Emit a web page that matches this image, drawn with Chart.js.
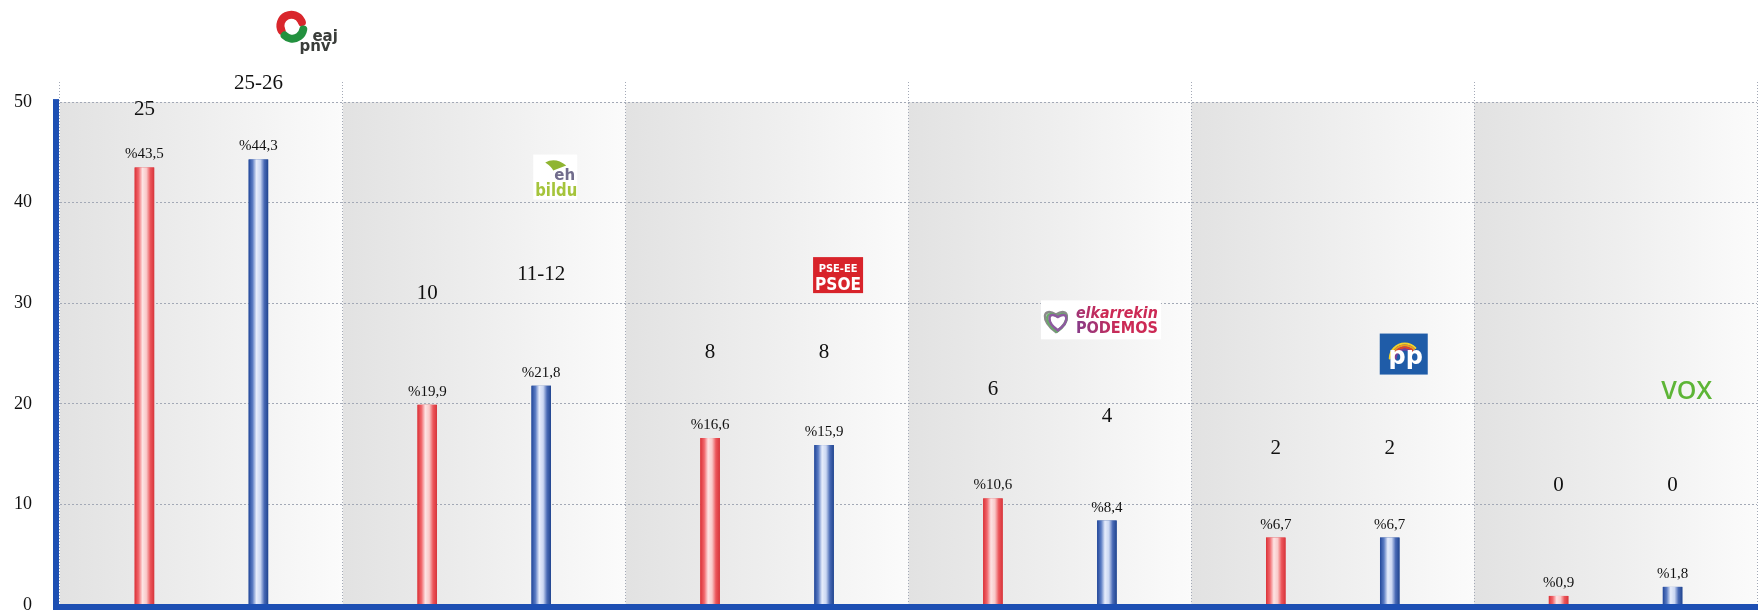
<!DOCTYPE html>
<html>
<head>
<meta charset="utf-8">
<script src="https://cdn.jsdelivr.net/npm/chart.js@4.4.1/dist/chart.umd.min.js"></script>
<style>
  html, body { margin: 0; padding: 0; background: #fff; }
  #wrap { width: 1758px; height: 610px; }
</style>
</head>
<body>
<div id="wrap"><canvas id="inkestaChart" width="1758" height="610"></canvas></div>
<script>
// Datuak
const alderdiak = ['EAJ-PNV', 'EH Bildu', 'PSE-EE (PSOE)', 'Elkarrekin Podemos', 'PP', 'Vox'];
const boto2016 = [43.5, 19.9, 16.6, 10.6, 6.7, 0.9];
const botoInkesta = [44.3, 21.8, 15.9, 8.4, 6.7, 1.8];
const eserleku2016 = ['25', '10', '8', '6', '2', '0'];
const eserlekuInkesta = ['25-26', '11-12', '8', '4', '2', '0'];
const yTicks = [0, 10, 20, 30, 40, 50];

// Eserleku-etiketen eta logoen altuera (ardatzaren unitateetan)
const eserlekuMaila2016 = [49.3, 31.0, 25.1, 21.4, 15.6, 11.9];
const eserlekuMailaInkesta = [51.9, 32.9, 25.1, 18.7, 15.6, 11.9];
const logoMaila = [57.0, 42.6, 32.8, 28.4, 24.9, 21.3];
const logoDx = [46, 14, 14, -6, 14, 14];

const SERIF = '"Liberation Serif", "Times New Roman", serif';
const urdina = '#1d4fb3';

const ehuneko = v => '%' + v.toFixed(1).replace('.', ',');

// --- logoak (marrazki sinpleak) ---
function logoPnv(ctx, cx, cy) {
  const sx = cx - 13, sy = cy - 6;
  ctx.lineCap = 'round';
  ctx.lineWidth = 8;
  ctx.strokeStyle = '#d9262c';
  ctx.beginPath(); ctx.arc(sx, sy, 11, Math.PI * 0.85, Math.PI * 1.9); ctx.stroke();
  ctx.strokeStyle = '#23913f';
  ctx.beginPath(); ctx.arc(sx + 1, sy + 2, 11, Math.PI * 0.05, Math.PI * 0.75); ctx.stroke();
  ctx.fillStyle = '#3a3d3a';
  ctx.textAlign = 'left';
  ctx.textBaseline = 'alphabetic';
  ctx.font = 'bold 15px "DejaVu Sans", sans-serif';
  ctx.fillText('eaj', cx + 8, cy + 9);
  ctx.fillText('pnv', cx - 5, cy + 19);
}

function logoBildu(ctx, cx, cy) {
  ctx.fillStyle = '#ffffff';
  ctx.fillRect(cx - 22, cy - 22, 44, 45);
  ctx.fillStyle = '#8fb531';
  ctx.beginPath();
  ctx.moveTo(cx - 10, cy - 14);
  ctx.quadraticCurveTo(cx, cy - 20, cx + 11, cy - 11);
  ctx.lineTo(cx - 2, cy - 6);
  ctx.quadraticCurveTo(cx - 4, cy - 10, cx - 10, cy - 14);
  ctx.fill();
  ctx.textAlign = 'left';
  ctx.textBaseline = 'alphabetic';
  ctx.font = 'bold 15px "DejaVu Sans", sans-serif';
  ctx.fillStyle = '#716c8c';
  ctx.fillText('eh', cx - 1, cy + 3);
  ctx.font = 'bold 17px "DejaVu Sans", sans-serif';
  ctx.fillStyle = '#a5c43b';
  ctx.fillText('bildu', cx - 20, cy + 19, 42);
}

function logoPsoe(ctx, cx, cy) {
  ctx.fillStyle = '#d8232a';
  ctx.fillRect(cx - 25, cy - 18, 50, 36);
  ctx.fillStyle = '#ffffff';
  ctx.textAlign = 'center';
  ctx.textBaseline = 'alphabetic';
  ctx.font = 'bold 11px "DejaVu Sans Condensed", "DejaVu Sans", sans-serif';
  ctx.fillText('PSE-EE', cx, cy - 3, 44);
  ctx.font = 'bold 18px "DejaVu Sans Condensed", "DejaVu Sans", sans-serif';
  ctx.fillText('PSOE', cx, cy + 15, 46);
}

function bihotza(ctx, x, y, s) {
  ctx.beginPath();
  ctx.moveTo(x, y + s * 0.45);
  ctx.bezierCurveTo(x - s * 0.62, y + s * 0.02, x - s * 0.5, y - s * 0.55, x, y - s * 0.22);
  ctx.bezierCurveTo(x + s * 0.5, y - s * 0.55, x + s * 0.62, y + s * 0.02, x, y + s * 0.45);
  ctx.closePath();
}

function logoPodemos(ctx, cx, cy) {
  ctx.fillStyle = '#ffffff';
  ctx.fillRect(cx - 60, cy - 19, 120, 39);
  const hx = cx - 44, hy = cy + 1;
  ctx.lineWidth = 2.5;
  ctx.strokeStyle = '#8a8a8a'; bihotza(ctx, hx - 1, hy, 26); ctx.stroke();
  ctx.strokeStyle = '#6aa86a'; bihotza(ctx, hx, hy + 1, 23); ctx.stroke();
  ctx.strokeStyle = '#8e5aa0'; bihotza(ctx, hx + 1, hy + 1, 20); ctx.stroke();
  const g = ctx.createLinearGradient(cx - 26, 0, cx + 58, 0);
  g.addColorStop(0, '#6f3d86');
  g.addColorStop(0.5, '#8a3a86');
  g.addColorStop(1, '#cc2a55');
  ctx.fillStyle = g;
  ctx.textAlign = 'left';
  ctx.textBaseline = 'alphabetic';
  ctx.font = 'italic bold 15px "DejaVu Sans", sans-serif';
  ctx.fillText('elkarrekin', cx - 25, cy - 1, 82);
  ctx.font = 'bold 15px "DejaVu Sans", sans-serif';
  ctx.fillText('PODEMOS', cx - 25, cy + 14, 82);
}

function logoPp(ctx, cx, cy) {
  ctx.fillStyle = '#1f5ca8';
  ctx.fillRect(cx - 24, cy - 21, 48, 41);
  const kolore = ['#f5d327', '#f39a1e', '#e3422b', '#7b3f98'];
  ctx.lineWidth = 2;
  kolore.forEach((k, i) => {
    ctx.strokeStyle = k;
    ctx.beginPath();
    ctx.arc(cx + 1, cy + 4, 15 - i * 2, Math.PI * 1.0, Math.PI * 1.75);
    ctx.stroke();
  });
  ctx.fillStyle = '#ffffff';
  ctx.textAlign = 'center';
  ctx.textBaseline = 'alphabetic';
  ctx.font = 'bold 24px "DejaVu Sans", sans-serif';
  ctx.fillText('pp', cx + 2, cy + 9);
}

function logoVox(ctx, cx, cy) {
  ctx.fillStyle = '#5db536';
  ctx.textAlign = 'center';
  ctx.textBaseline = 'middle';
  ctx.font = '600 25px "Open Sans", "DejaVu Sans", sans-serif';
  ctx.fillText('VOX', cx, cy + 1, 56);
}

const logoak = [logoPnv, logoBildu, logoPsoe, logoPodemos, logoPp, logoVox];

// Atzeko banda grisak
const bandak = {
  id: 'bandak',
  beforeDraw(chart) {
    const { ctx, chartArea, scales: { x, y } } = chart;
    const w = x.getPixelForValue(1) - x.getPixelForValue(0);
    const top = y.getPixelForValue(50);
    ctx.save();
    alderdiak.forEach((_, i) => {
      const left = x.getPixelForValue(i) - w / 2;
      const g = ctx.createLinearGradient(left, 0, left + w, 0);
      g.addColorStop(0, '#e2e2e2');
      g.addColorStop(0.5, '#eeeeee');
      g.addColorStop(1, '#fbfbfb');
      ctx.fillStyle = g;
      ctx.fillRect(left, top, w, chartArea.bottom - top);
    });
    ctx.restore();
  }
};

// Barren itzalak, etiketak eta ardatz lodiak
const apainketak = {
  id: 'apainketak',
  afterDatasetsDraw(chart) {
    const { ctx, chartArea, scales: { y } } = chart;
    const geldiuneak = [
      ['#db3238', '#f1666b', '#fde3e3', '#f9c9c9', '#ec555a', '#d7353b'],
      ['#22479a', '#5a7bc3', '#e6ecfb', '#cbd7f2', '#4869b5', '#21458f']
    ];
    const eserlekuak = [eserleku2016, eserlekuInkesta];
    const mailak = [eserlekuMaila2016, eserlekuMailaInkesta];
    ctx.save();
    chart.data.datasets.forEach((ds, di) => {
      const meta = chart.getDatasetMeta(di);
      meta.data.forEach((bar, i) => {
        const { x, y: top, base, width } = bar.getProps(['x', 'y', 'base', 'width'], true);
        const g = ctx.createLinearGradient(x - width / 2, 0, x + width / 2, 0);
        geldiuneak[di].forEach((c, k) => g.addColorStop(k / 5, c));
        ctx.fillStyle = g;
        ctx.fillRect(x - width / 2, top, width, base - top);

        ctx.fillStyle = '#111';
        ctx.textAlign = 'center';
        ctx.textBaseline = 'alphabetic';
        ctx.font = '15px ' + SERIF;
        ctx.fillText(ehuneko(ds.data[i]), x, top - 9);

        ctx.font = '21px ' + SERIF;
        ctx.textBaseline = 'middle';
        ctx.fillText(eserlekuak[di][i], x, y.getPixelForValue(mailak[di][i]));
      });
    });

    // ardatz urdin lodiak
    ctx.fillStyle = urdina;
    const y0 = y.getPixelForValue(50.3);
    ctx.fillRect(chartArea.left - 7, y0, 6, chart.height - y0);
    ctx.fillRect(chartArea.left - 7, chartArea.bottom - 1, chart.width - chartArea.left + 7, 6);
    ctx.restore();
  },
  afterDraw(chart) {
    const { ctx, scales: { y } } = chart;
    const meta = chart.getDatasetMeta(1);
    ctx.save();
    logoak.forEach((marraztu, i) => {
      const bar = meta.data[i];
      marraztu(ctx, bar.x + logoDx[i], y.getPixelForValue(logoMaila[i]));
    });
    ctx.restore();
  }
};

new Chart(document.getElementById('inkestaChart'), {
  type: 'bar',
  data: {
    labels: alderdiak,
    datasets: [
      {
        label: '2016ko hauteskundeak',
        data: boto2016,
        backgroundColor: '#e0393e',
        categoryPercentage: 0.806,
        barPercentage: 0.171
      },
      {
        label: 'Inkesta',
        data: botoInkesta,
        backgroundColor: '#2f55a3',
        categoryPercentage: 0.806,
        barPercentage: 0.171
      }
    ]
  },
  options: {
    responsive: false,
    animation: false,
    layout: { padding: { top: 82, right: 1, bottom: 5, left: 0 } },
    plugins: {
      legend: { display: false },
      tooltip: { enabled: false }
    },
    scales: {
      x: {
        ticks: { display: false },
        grid: {
          offset: true,
          drawTicks: false,
          color: '#a3a9b6',
          lineWidth: 1
        },
        border: { display: false, dash: [1, 2] },
        afterFit: axis => { axis.height = 0; }
      },
      y: {
        min: 0,
        max: 52,
        afterBuildTicks: axis => { axis.ticks = yTicks.map(v => ({ value: v })); },
        afterFit: axis => {
          axis.width = 60;
          axis.paddingTop = 0;
          axis.paddingBottom = 0;
        },
        ticks: {
          color: '#111',
          padding: 28,
          font: { family: SERIF, size: 18 }
        },
        grid: {
          drawTicks: false,
          color: '#a3a9b6',
          lineWidth: 1
        },
        border: { display: false, dash: [2, 2] }
      }
    }
  },
  plugins: [bandak, apainketak]
});
</script>
</body>
</html>
